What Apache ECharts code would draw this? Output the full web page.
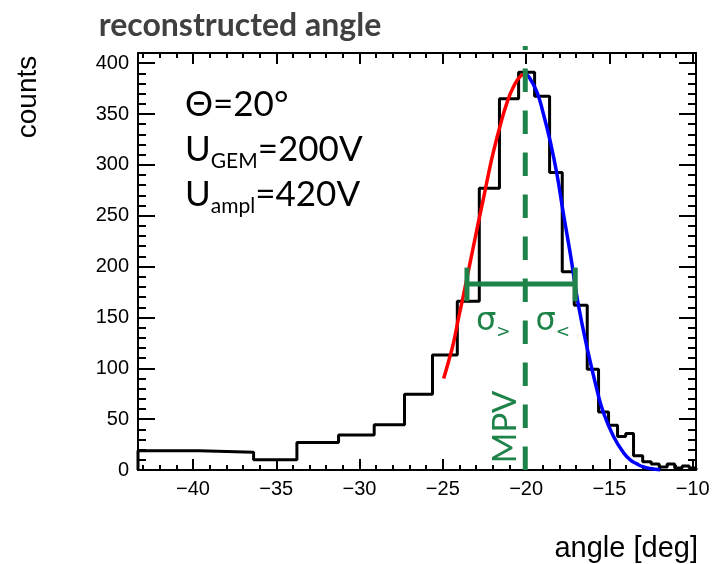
<!DOCTYPE html>
<html><head><meta charset="utf-8">
<script src="https://cdn.jsdelivr.net/npm/echarts@6/dist/echarts.min.js"></script>
<style>html,body{margin:0;padding:0;background:#fff}#c{width:722px;height:564px}</style>
</head><body><div id="c"></div>
<script>
// ---- data ----
const binEdges = [-43.30, -39.62, -36.36, -33.76, -31.26, -29.12, -27.30, -25.62, -24.13, -22.81, -21.60, -20.45, -19.49, -18.59, -17.83, -17.11, -16.33, -15.65, -15.05, -14.51, -14.02, -13.55, -13.00, -12.49, -12.01, -11.53, -11.08, -10.63, -10.21, -9.80];
const counts = [19, 17.5, 10, 27, 34.5, 44.5, 74.5, 113, 166, 277, 365, 391, 367.5, 292.5, 195, 162, 99, 57, 44, 33, 36, 14, 8, 6, 3, 6, 2, 4, 2];

const redX = [-24.95, -24.65, -24.36, -24.05, -23.76, -23.46, -23.16, -22.86, -22.56, -22.26, -21.96, -21.55, -21.15, -20.75, -20.35, -20.05];
const redY = [90, 107, 125, 150, 172, 196, 220, 244, 267, 291, 313, 339, 361, 377, 387, 389];

const blueX = [-20.05, -19.85, -19.36, -18.96, -18.55, -18.15, -17.76, -17.36, -17.16, -16.87, -16.35, -15.75, -15.35, -14.75, -14.15, -13.75, -13.35, -12.95, -12.55, -11.95];
const blueY = [389, 387, 372, 350, 323, 291, 252, 214, 193, 163, 121, 79, 56, 33, 17, 10, 6, 3, 1.5, 0.3];

const mpv = -20.05;
const mpvTop = 417;
const sigmaLeft = -23.55, sigmaRight = -17.05, sigmaLevel = 183;
const capLow = 166, capHigh = 199;

const xMajorTicks = [-40, -35, -30, -25, -20, -15, -10];
const yMajorTicks = [0, 50, 100, 150, 200, 250, 300, 350, 400];
const xMin = -43.3, xMax = -9.8, yMin = 0, yMax = 410;

const xMinorTicks = [];
for (let v = -43; v <= -10; v++) xMinorTicks.push(v);
const yMinorTicks = [];
for (let v = 0; v <= 410; v += 10) yMinorTicks.push(v);

const GREEN = '#1d8348';

// step outline of histogram
const histPts = [[binEdges[0], 0]];
for (let i = 0; i < counts.length; i++) {
  histPts.push([binEdges[i], counts[i]]);
  histPts.push([binEdges[i + 1], counts[i]]);
}
histPts.push([binEdges[binEdges.length - 1], 0]);

const fmt = v => (v < 0 ? '\u2212' + Math.abs(v) : String(v));

function xAx(pos, major, labels, line) {
  return {
    type: 'value', min: xMin, max: xMax, position: pos,
    axisLine: { show: line, onZero: false, lineStyle: { color: '#000', width: 2 } },
    axisTick: { show: true, inside: true, customValues: major ? xMajorTicks : xMinorTicks, length: major ? 11 : 5, lineStyle: { color: '#000', width: 2 } },
    axisLabel: labels ? { show: true, customValues: xMajorTicks, formatter: fmt, color: '#000', fontFamily: 'Liberation Sans', fontSize: 20, margin: 9 } : { show: false },
    splitLine: { show: false }
  };
}
function yAx(pos, major, labels, line) {
  return {
    type: 'value', min: yMin, max: yMax, position: pos,
    axisLine: { show: line, onZero: false, lineStyle: { color: '#000', width: 2 } },
    axisTick: { show: true, inside: true, customValues: major ? yMajorTicks : yMinorTicks, length: major ? 17 : 8, lineStyle: { color: '#000', width: 2 } },
    axisLabel: labels ? { show: true, customValues: yMajorTicks, formatter: fmt, color: '#000', fontFamily: 'Liberation Sans', fontSize: 20, margin: 9 } : { show: false },
    splitLine: { show: false }
  };
}

const chart = echarts.init(document.getElementById('c'), null, { renderer: 'canvas' });
const lineBase = { type: 'line', xAxisIndex: 0, yAxisIndex: 0, symbol: 'none', animation: false, silent: true, clip: false };

chart.setOption({
  animation: false,
  backgroundColor: '#fff',
  grid: { left: 138, right: 26, top: 53, bottom: 94 },
  xAxis: [xAx('bottom', true, true, true), xAx('bottom', false, false, false), xAx('top', true, false, true), xAx('top', false, false, false)],
  yAxis: [yAx('left', true, true, true), yAx('left', false, false, false), yAx('right', true, false, true), yAx('right', false, false, false)],
  series: [
    Object.assign({}, lineBase, { name: 'hist', data: histPts, lineStyle: { color: '#000', width: 3 }, z: 2 }),
    Object.assign({}, lineBase, { name: 'red', smooth: true, data: redX.map((x, i) => [x, redY[i]]), lineStyle: { color: '#ff0000', width: 3.5 }, z: 3 }),
    Object.assign({}, lineBase, { name: 'blue', smooth: true, data: blueX.map((x, i) => [x, blueY[i]]), lineStyle: { color: '#0000ff', width: 3.5 }, z: 3 }),
    Object.assign({}, lineBase, { name: 'mpv', data: [[mpv, 0], [mpv, mpvTop]], lineStyle: { color: GREEN, width: 5, type: [23.5, 18.5], cap: 'butt' }, z: 4 }),
    Object.assign({}, lineBase, { name: 'sigbar', data: [[sigmaLeft, sigmaLevel], [sigmaRight, sigmaLevel]], lineStyle: { color: GREEN, width: 5 }, z: 4 }),
    Object.assign({}, lineBase, { name: 'capL', data: [[sigmaLeft, capLow], [sigmaLeft, capHigh]], lineStyle: { color: GREEN, width: 5 }, z: 4 }),
    Object.assign({}, lineBase, { name: 'capR', data: [[sigmaRight, capLow], [sigmaRight, capHigh]], lineStyle: { color: GREEN, width: 5 }, z: 4 }),
    {
      type: 'scatter', xAxisIndex: 0, yAxisIndex: 0, symbolSize: 0, silent: true, animation: false, z: 5,
      itemStyle: { opacity: 1 },
      data: [
        { value: [-21.97, 146], label: { formatter: '{s|σ}{b|>}' } },
        { value: [-18.40, 146], label: { formatter: '{s|σ}{b|<}' } }
      ],
      label: {
        show: true, position: 'inside', color: GREEN, opacity: 1,
        rich: {
          s: { fontFamily: 'DejaVu Sans', fontSize: 32, color: GREEN, lineHeight: 40, verticalAlign: 'middle' },
          b: { fontFamily: 'DejaVu Sans', fontSize: 17, color: GREEN, lineHeight: 18, verticalAlign: 'bottom' }
        }
      }
    },
    {
      type: 'scatter', xAxisIndex: 0, yAxisIndex: 0, symbolSize: 0, silent: true, animation: false, z: 5,
      itemStyle: { opacity: 1 },
      data: [[-21.25, 42.3]],
      label: { show: true, position: 'inside', formatter: 'MPV', rotate: 90, color: GREEN, opacity: 1, fontFamily: 'Lato', fontSize: 33 }
    }
  ],
  graphic: [
    { type: 'text', x: 240, y: 26, style: { text: 'reconstructed angle', font: 'bold 32px Lato', fill: '#404040', align: 'center', verticalAlign: 'middle' } },
    { type: 'text', x: 28, y: 97, rotation: Math.PI / 2, style: { text: 'counts', font: '28px "Liberation Sans"', fill: '#000', align: 'center', verticalAlign: 'middle' } },
    { type: 'text', x: 698, y: 549, style: { text: 'angle [deg]', font: '29px "Liberation Sans"', fill: '#000', align: 'right', verticalAlign: 'middle' } },
    {
      type: 'text', x: 185, y: 82,
      style: {
        text: '{m|\u0398=20°}\n{m|U}{s|GEM}{m|=200V}\n{m|U}{s|ampl}{m|=420V}',
        align: 'left', verticalAlign: 'top',
        rich: {
          m: { fontFamily: 'Lato', fontSize: 35, fill: '#000', lineHeight: 45, verticalAlign: 'middle' },
          s: { fontFamily: 'Lato', fontSize: 21, fill: '#000', lineHeight: 14, verticalAlign: 'bottom' }
        }
      }
    }
  ]
});
</script>
</body></html>
